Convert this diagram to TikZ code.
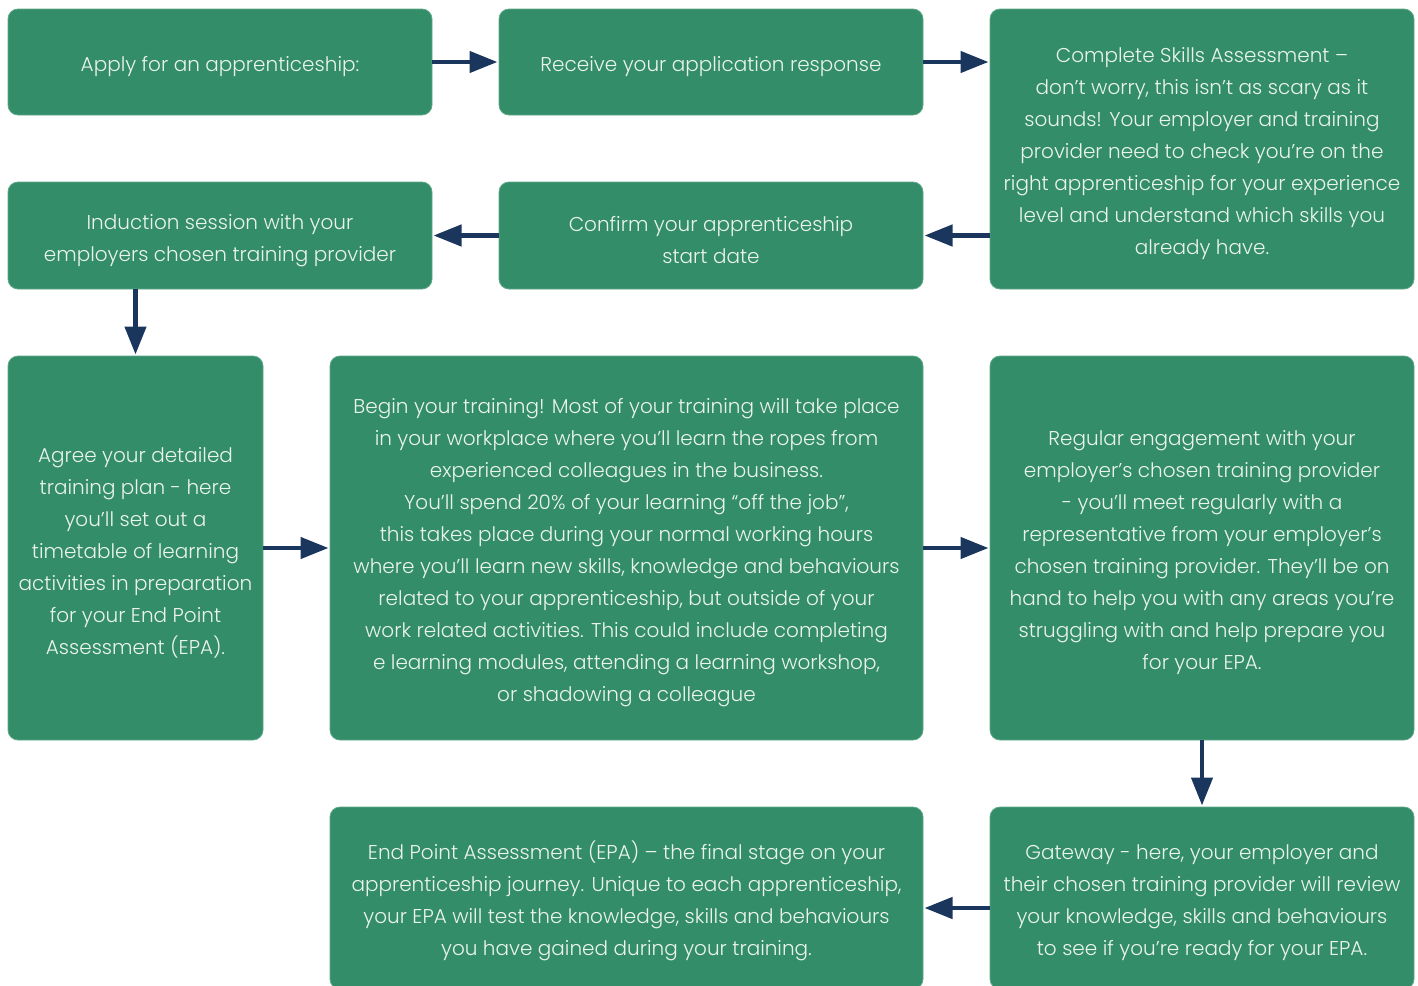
\documentclass[tikz,border=0pt]{standalone}
\usepackage{fontspec}
\setmainfont{Poppins Light}
\usepackage{tikz}
\usetikzlibrary{arrows.meta}
\definecolor{boxGreen}{HTML}{338D69}
\definecolor{edgeGreen}{HTML}{5FA98A}
\definecolor{arrowNavy}{HTML}{1B365D}
\definecolor{textWhite}{HTML}{EAF3EE}
\newcommand{\textdrop}{\rule{0pt}{25pt}}

\begin{document}
\begin{tikzpicture}[x=1pt, y=-1pt,
  stepbox/.style={fill=boxGreen, draw=edgeGreen, line width=0.8pt, rounded corners=10pt,
    text=textWhite, align=center, inner sep=0pt, outer sep=0pt,
    font=\fontsize{20}{32}\selectfont},
  flow/.style={draw=arrowNavy, line width=4.5pt, shorten >=1.5pt,
    -{Triangle[length=28pt,width=21pt]}}]
\useasboundingbox (0,0) rectangle (1418,985);
\clip (0,0) rectangle (1418,985);
% top rows
\node[stepbox, minimum width=424pt, minimum height=106pt] (apply) at (220,62) {\textdrop Apply for an apprenticeship:};
\node[stepbox, minimum width=424pt, minimum height=106pt] (resp) at (711,62) {\textdrop Receive your application response};
\node[stepbox, minimum width=424pt, minimum height=280pt] (skills) at (1202,149) {\textdrop Complete Skills Assessment –\\ don’t worry, this isn’t as scary as it\\ sounds! Your employer and training\\ provider need to check you’re on the\\ right apprenticeship for your experience\\ level and understand which skills you\\ already have.};
\node[stepbox, minimum width=424pt, minimum height=107pt] (induct) at (220,235.5) {\textdrop Induction session with your\\ employers chosen training provider};
\node[stepbox, minimum width=424pt, minimum height=107pt] (confirm) at (711,235.5) {\textdrop Confirm your apprenticeship\\ start date};
% middle row
\node[stepbox, minimum width=255pt, minimum height=384pt] (plan) at (135.5,548) {\textdrop Agree your detailed\\ training plan - here\\ you’ll set out a\\ timetable of learning\\ activities in preparation\\ for your End Point\\ Assessment (EPA).};
\node[stepbox, minimum width=593pt, minimum height=384pt] (train) at (626.5,548) {\textdrop Begin your training! Most of your training will take place\\ in your workplace where you’ll learn the ropes from\\ experienced colleagues in the business.\\ You’ll spend 20\% of your learning “off the job”,\\ this takes place during your normal working hours\\ where you’ll learn new skills, knowledge and behaviours\\ related to your apprenticeship, but outside of your\\ work related activities. This could include completing\\ e learning modules, attending a learning workshop,\\ or shadowing a colleague};
\node[stepbox, minimum width=424pt, minimum height=384pt] (engage) at (1202,548) {\textdrop Regular engagement with your\\ employer’s chosen training provider\\ - you’ll meet regularly with a\\ representative from your employer’s\\ chosen training provider. They’ll be on\\ hand to help you with any areas you’re\\ struggling with and help prepare you\\ for your EPA.};
% bottom row
\node[stepbox, minimum width=593pt, minimum height=182pt] (epa) at (626.5,898) {\textdrop End Point Assessment (EPA) – the final stage on your\\ apprenticeship journey. Unique to each apprenticeship,\\ your EPA will test the knowledge, skills and behaviours\\ you have gained during your training.};
\node[stepbox, minimum width=424pt, minimum height=182pt] (gate) at (1202,898) {\textdrop Gateway - here, your employer and\\ their chosen training provider will review\\ your knowledge, skills and behaviours\\ to see if you’re ready for your EPA.};
% arrows
\draw[flow] (apply.east) -- (resp.west);
\draw[flow] (resp.east) -- (resp.east -| skills.west);
\draw[flow] (confirm.east -| skills.west) -- (confirm.east);
\draw[flow] (confirm.west) -- (induct.east);
\draw[flow] (induct.south -| plan.north) -- (plan.north);
\draw[flow] (plan.east) -- (train.west);
\draw[flow] (train.east) -- (engage.west);
\draw[flow] (engage.south) -- (engage.south |- gate.north);
\draw[flow] (gate.west |- 0,908) -- (epa.east |- 0,908);
\end{tikzpicture}
\end{document}
